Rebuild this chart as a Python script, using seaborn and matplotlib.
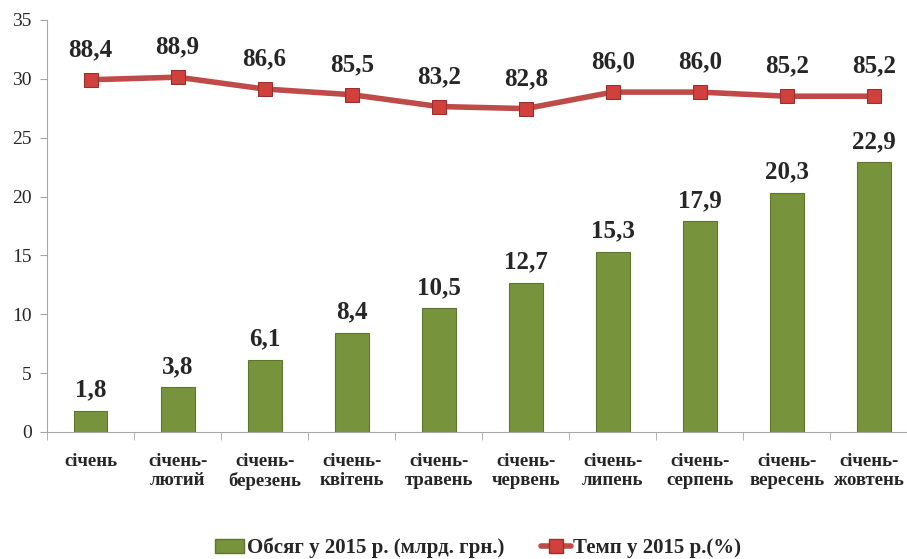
import matplotlib
matplotlib.use('Agg')
import matplotlib.pyplot as plt
import matplotlib.transforms as mtransforms
import numpy as np
import pandas as pd
import seaborn as sns
from matplotlib.lines import Line2D
from matplotlib.patches import Patch

# Дані з графіка
periods = ['січень', 'січень-\nлютий', 'січень-\nберезень', 'січень-\nквітень', 'січень-\nтравень',
           'січень-\nчервень', 'січень-\nлипень', 'січень-\nсерпень', 'січень-\nвересень', 'січень-\nжовтень']
obsyag = [1.8, 3.8, 6.1, 8.4, 10.5, 12.7, 15.3, 17.9, 20.3, 22.9]
temp = [88.4, 88.9, 86.6, 85.5, 83.2, 82.8, 86.0, 86.0, 85.2, 85.2]

df = pd.DataFrame({'period': periods, 'obsyag': obsyag, 'temp': temp})

sns.set_style('white')
plt.rcParams['font.family'] = ['Liberation Serif', 'DejaVu Serif']

bar_color = '#77933C'
line_color = '#BE4B48'

fig = plt.figure(figsize=(9.07, 5.59), dpi=100)
ax = fig.add_axes([47 / 907, 1 - 432 / 559, 1 - 47 / 907, 412 / 559])

sns.barplot(data=df, x='period', y='obsyag', color=bar_color, width=0.39,
            edgecolor='#5E7530', linewidth=0.8, saturation=1, ax=ax)
ax.set_ylim(0, 35)
ax.set_xlim(-0.5, 9.38)
ax.set_yticks(range(0, 36, 5))
ax.set_xlabel('')
ax.set_ylabel('')

for i, v in enumerate(obsyag):
    ax.text(i, v + 0.8, f'{v:.1f}'.replace('.', ','), ha='center', va='bottom',
            fontsize=18, fontweight='bold')

# друга (прихована) вісь для темпу
ax2 = ax.twinx()
ax2.set_ylim(20, 100)
x = np.arange(len(temp))
sns.lineplot(x=x, y=temp, color=line_color, linewidth=4, marker='s', markersize=10,
             markeredgecolor='#9C2F2C', markerfacecolor='#D0403C', sort=False, ax=ax2)
for i, v in enumerate(temp):
    ax2.text(i, v + 3.6, f'{v:.1f}'.replace('.', ','), ha='center', va='bottom',
             fontsize=18, fontweight='bold')
ax2.set_yticks([])
for s in ax2.spines.values():
    s.set_visible(False)

for s in ['top', 'right']:
    ax.spines[s].set_visible(False)
for s in ['left', 'bottom']:
    ax.spines[s].set_color('#A6A6A6')

ax.tick_params(axis='y', labelsize=14, length=5, color='#A6A6A6', direction='out', left=True, pad=6)
ax.tick_params(axis='x', labelsize=13.5, length=0, pad=15)
for lbl in ax.get_xticklabels():
    lbl.set_fontweight('bold')
    lbl.set_linespacing(1.15)
# останній підпис трохи лівіше, щоб не обрізався
last = ax.get_xticklabels()[-1]
last.set_transform(last.get_transform() + mtransforms.ScaledTranslation(-5 / 100, 0, fig.dpi_scale_trans))
# засічки між категоріями
ax.set_xticks(np.arange(-0.5, 9.5, 1), minor=True)
ax.tick_params(axis='x', which='minor', length=6, color='#A6A6A6', direction='out', bottom=True)

handles = [Patch(facecolor=bar_color, edgecolor='#5E7530', label='Обсяг у 2015 р. (млрд. грн.)'),
           Line2D([0], [0], color=line_color, linewidth=4, marker='s', markersize=10,
                  markeredgecolor='#9C2F2C', markerfacecolor='#D0403C', label='Темп у 2015 р.(%)')]
fig.legend(handles=handles, loc='center', bbox_to_anchor=(478 / 907, 1 - 548 / 559), ncol=2,
           frameon=False, prop={'size': 15, 'weight': 'bold'}, handlelength=1.4,
           handletextpad=0.1, columnspacing=1.8)

fig.savefig('out.png', dpi=100)
